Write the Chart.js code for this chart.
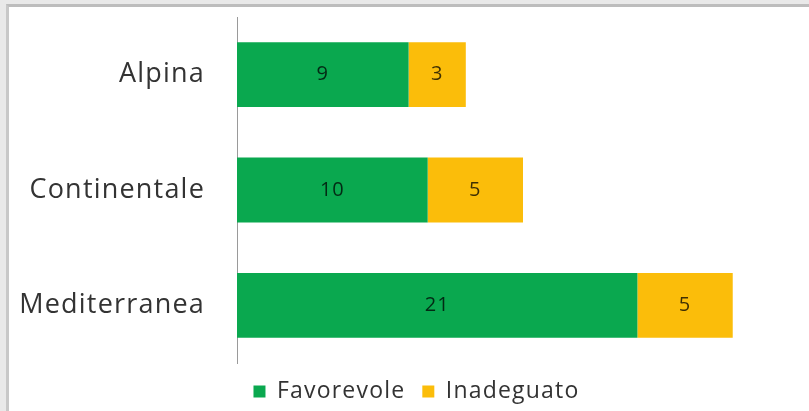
<!DOCTYPE html>
<html>
<head>
<meta charset="utf-8">
<script src="https://cdn.jsdelivr.net/npm/chart.js@4"></script>
<style>
  body { margin: 0; background: #e9e9e9; }
  #frame { position: absolute; left: 6px; top: 4px; width: 803px; height: 407px; background: #fff;
           border-top: 3px solid #bdbdbd; border-left: 3px solid #c8c8c8; box-sizing: border-box; }
  #wrap { position: absolute; left: 0; top: 0; width: 809px; height: 411px; }
</style>
</head>
<body>
<div id="frame"></div>
<div id="wrap"><canvas id="chart" width="809" height="411"></canvas></div>
<script>
// Regioni biogeografiche
const categories = ['Alpina', 'Continentale', 'Mediterranea'];
const favorevole = [9, 10, 21];
const inadeguato = [3, 5, 5];

// testo un po' spaziato come nell'originale
const spacing = {
    id: 'spacing',
    beforeDraw(chart) { chart.ctx.letterSpacing = '1.2px'; }
};

// etichette dei valori al centro di ogni barra
const barLabels = {
    id: 'barLabels',
    afterDatasetsDraw(chart) {
        const ctx = chart.ctx;
        ctx.save();
        ctx.letterSpacing = '1px';
        ctx.font = '20px "Open Sans"';
        ctx.fillStyle = 'rgba(0,0,0,0.75)';
        ctx.textAlign = 'center';
        ctx.textBaseline = 'middle';
        chart.data.datasets.forEach((ds, i) => {
            chart.getDatasetMeta(i).data.forEach((bar, j) => {
                const p = bar.getCenterPoint();
                ctx.fillText(ds.data[j], p.x, p.y);
            });
        });
        ctx.restore();
    }
};

const ctx = document.getElementById('chart').getContext('2d');
new Chart(ctx, {
    type: 'bar',
    data: {
        labels: categories,
        datasets: [{
            label: 'Favorevole',
            data: favorevole,
            backgroundColor: '#0aa84f'
        }, {
            label: 'Inadeguato',
            data: inadeguato,
            backgroundColor: '#fbbd0a'
        }]
    },
    options: {
        indexAxis: 'y',
        responsive: false,
        animation: false,
        barPercentage: 0.75,
        categoryPercentage: 0.75,
        layout: { padding: { top: 17, left: 0, right: 0, bottom: -2 } },
        scales: {
            x: {
                stacked: true,
                display: false,
                min: 0,
                max: 30
            },
            y: {
                stacked: true,
                grid: { display: false },
                border: { display: true, color: '#9a9a9a', width: 1 },
                ticks: {
                    color: '#333',
                    font: { family: 'Open Sans', size: 27 },
                    padding: 24
                },
                afterFit(scale) {
                    scale.width = 237;
                    scale.paddingTop = 0;
                    scale.paddingBottom = 0;
                }
            }
        },
        plugins: {
            legend: {
                position: 'bottom',
                labels: {
                    color: '#333',
                    font: { family: 'Open Sans', size: 23 },
                    boxWidth: 12,
                    boxHeight: 12,
                    padding: 17
                }
            },
            tooltip: { enabled: false }
        }
    },
    plugins: [spacing, barLabels]
});
</script>
</body>
</html>
